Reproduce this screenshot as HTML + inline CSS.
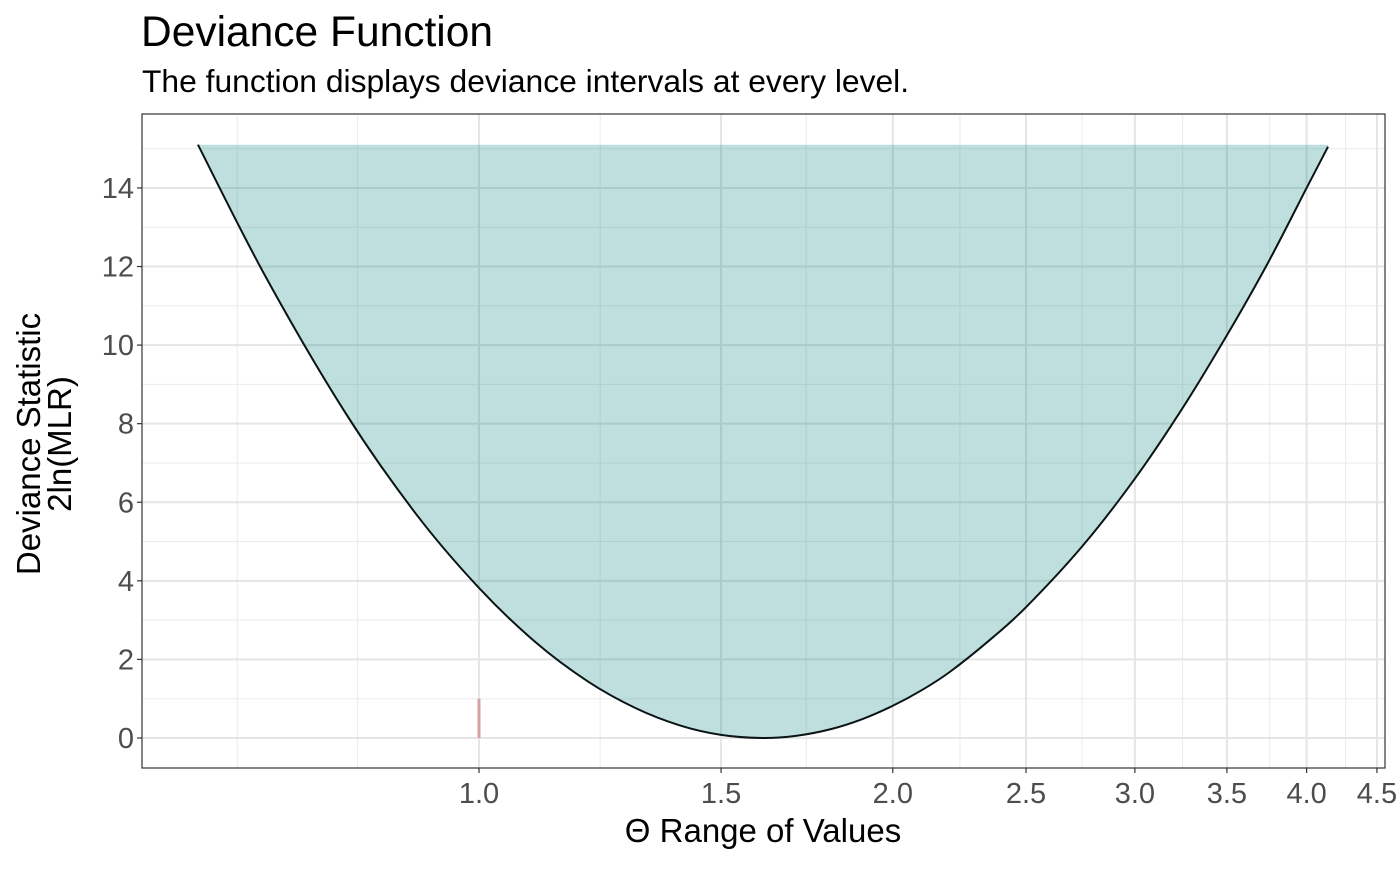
<!DOCTYPE html>
<html><head><meta charset="utf-8"><style>
body{margin:0;background:#fff;}
svg text{font-family:"Liberation Sans",Arial,sans-serif;}
</style></head><body>
<svg id="chart" width="1400" height="866" xmlns="http://www.w3.org/2000/svg">
<text x="141" y="46" font-size="42.5" fill="#000">Deviance Function</text>
<text x="142" y="92" font-size="31.8" fill="#000">The function displays deviance intervals at every level.</text>
<g id="grid"></g>
<g id="marks"></g>
<rect x="142" y="114" width="1243" height="654" fill="none" stroke="#333" stroke-width="1.2"/>
<g id="axes"></g>
<text x="763" y="842" font-size="33" text-anchor="middle" fill="#000">Θ Range of Values</text>
<text transform="translate(40,444) rotate(-90)" font-size="33" text-anchor="middle" fill="#000"><tspan x="0" dy="0">Deviance Statistic</tspan><tspan x="0" dy="31">2ln(MLR)</tspan></text>
</svg>
<script>
const xTicks=[1.0,1.5,2.0,2.5,3.0,3.5,4.0,4.5];
const xTickLabels=["1.0","1.5","2.0","2.5","3.0","3.5","4.0","4.5"];
const xMinor=[0.667,0.816,1.225,1.73,2.238,2.746,3.25,3.76,4.27];
const yTicks=[0,2,4,6,8,10,12,14];
const yMinor=[1,3,5,7,9,11,13,15];
const theta=[0.6245,0.7,0.8,0.9,1.0,1.1,1.2,1.3,1.4,1.5,1.606,1.7,1.8,1.9,2.0,2.1,2.2,2.35,2.5,2.75,3.0,3.25,3.5,3.75,4.0,4.146];
const deviance=[15.1,11.72,8.26,5.7,3.82,2.43,1.44,0.76,0.32,0.079,0,0.055,0.22,0.48,0.82,1.22,1.68,2.48,3.33,4.9,6.6,8.4,10.25,12.1,14.0,15.05];
const markerX=[1.0];
const markerY=[1.0];

const NS="http://www.w3.org/2000/svg";
const L=142,R=1385,T=114,B=768;
const X=v=>479+597*Math.log(v);
const Y=v=>738-39.29*v;
function mk(tag,attrs,parent){const e=document.createElementNS(NS,tag);for(const k in attrs)e.setAttribute(k,attrs[k]);parent.appendChild(e);return e;}
const grid=document.getElementById('grid'),marks=document.getElementById('marks'),axes=document.getElementById('axes');
mk('rect',{x:L,y:T,width:R-L,height:B-T,fill:'#fff'},grid);
yMinor.forEach(v=>{const e=mk('line',{x1:L,x2:R,y1:Y(v),y2:Y(v),stroke:'#ebebeb','stroke-width':1},grid);

});
xMinor.forEach(v=>{const e=mk('line',{x1:X(v),x2:X(v),y1:T,y2:B,stroke:'#ebebeb','stroke-width':1},grid);

});
yTicks.forEach(v=>{const e=mk('line',{x1:L,x2:R,y1:Y(v),y2:Y(v),stroke:'#e5e5e5','stroke-width':2},grid);

});
xTicks.forEach(v=>{const e=mk('line',{x1:X(v),x2:X(v),y1:T,y2:B,stroke:'#e5e5e5','stroke-width':2},grid);

});
const pts=theta.map((t,i)=>[X(t),Y(deviance[i])]);
function cr(p){let d=`M${p[0][0]},${p[0][1]}`;for(let i=0;i<p.length-1;i++){const p0=p[i-1]||p[i],p1=p[i],p2=p[i+1],p3=p[i+2]||p2;
d+=` C${p1[0]+(p2[0]-p0[0])/6},${p1[1]+(p2[1]-p0[1])/6} ${p2[0]-(p3[0]-p1[0])/6},${p2[1]-(p3[1]-p1[1])/6} ${p2[0]},${p2[1]}`;}return d;}
const cd=cr(pts);
const fill=mk('path',{d:cd+` L${pts[pts.length-1][0]},${Y(Math.max(...deviance))} L${pts[0][0]},${Y(Math.max(...deviance))} Z`,fill:'rgba(0,128,128,0.25)'},marks);


const line=mk('path',{d:cd,fill:'none',stroke:'#0a1414','stroke-width':2},marks);


markerX.forEach((v,i)=>{const e=mk('line',{x1:X(v),x2:X(v),y1:Y(0),y2:Y(markerY[i]),stroke:'#d4a0a6','stroke-width':3},marks);

});
yTicks.forEach(v=>{const t=mk('line',{x1:L-5,x2:L,y1:Y(v),y2:Y(v),stroke:'#333','stroke-width':1.2},axes);


const s=mk('text',{x:L-8,y:Y(v)+10,'font-size':29,'text-anchor':'end',fill:'#4d4d4d'},axes);s.textContent=v;

});
xTicks.forEach((v,i)=>{const t=mk('line',{x1:X(v),x2:X(v),y1:B,y2:B+5,stroke:'#333','stroke-width':1.2},axes);


const s=mk('text',{x:X(v),y:B+35,'font-size':29,'text-anchor':'middle',fill:'#4d4d4d'},axes);s.textContent=xTickLabels[i];

});
</script>
</body></html>
